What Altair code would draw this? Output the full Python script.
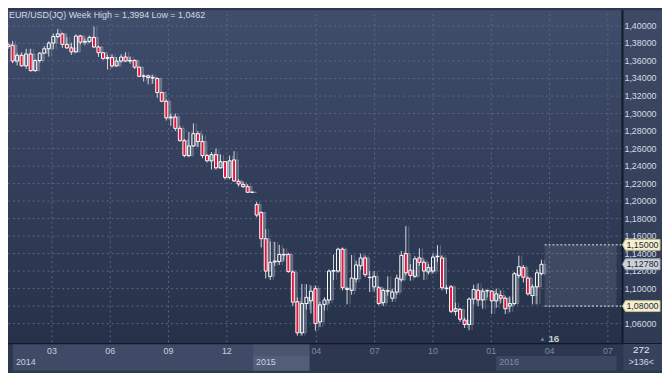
import altair as alt
import pandas as pd

title_text = "EUR/USD(JQ) Week High = 1,3994 Low = 1,0462"

# weekly OHLC, bar index 0..118 (2014 -> Mar 2016)
opens = [
    1.3765, 1.3780, 1.3600, 1.3665, 1.3545, 1.3680, 1.3490, 1.3605, 1.3690, 1.3740,
    1.3805, 1.3880, 1.3910, 1.3790, 1.3750, 1.3705, 1.3885, 1.3815, 1.3825, 1.3870,
    1.3760, 1.3695, 1.3630, 1.3640, 1.3545, 1.3600, 1.3645, 1.3600, 1.3605, 1.3530,
    1.3425, 1.3430, 1.3410, 1.3400, 1.3240, 1.3140, 1.2950, 1.2960, 1.2830, 1.2690,
    1.2520, 1.2630, 1.2770, 1.2680, 1.2520, 1.2460, 1.2530, 1.2380, 1.2450, 1.2270,
    1.2470, 1.2225, 1.2190, 1.2165, 1.2100,
    1.1960, 1.1870, 1.1570, 1.1140, 1.1305, 1.1310, 1.1390, 1.1390, 1.1190, 1.0850,
    1.0495, 1.0830, 1.0860, 1.1000, 1.0620, 1.0820, 1.0870, 1.1200, 1.1200, 1.1450,
    1.1000, 1.0980, 1.1110, 1.1260, 1.1350, 1.1130, 1.1020, 1.1010, 1.0840, 1.0970,
    1.0890, 1.0960, 1.1100, 1.1400, 1.1210, 1.1140, 1.1350, 1.1300, 1.1190, 1.1200,
    1.1365, 1.1350, 1.1005, 1.1020, 1.0740, 1.0760, 1.0640, 1.0590, 1.0880, 1.0980,
    1.0870, 1.0975, 1.0970, 1.0860, 1.0920, 1.0890, 1.0800, 1.0830, 1.1150, 1.1240,
    1.1120, 1.0920, 1.1020, 1.1170,
]
highs = [
    1.3810, 1.3830, 1.3690, 1.3700, 1.3740, 1.3740, 1.3620, 1.3700, 1.3770, 1.3825,
    1.3915, 1.3967, 1.3925, 1.3875, 1.3810, 1.3905, 1.3900, 1.3860, 1.3890, 1.3994,
    1.3775, 1.3700, 1.3670, 1.3677, 1.3645, 1.3677, 1.3700, 1.3650, 1.3620, 1.3535,
    1.3445, 1.3445, 1.3445, 1.3410, 1.3250, 1.3160, 1.2995, 1.3000, 1.2860, 1.2710,
    1.2790, 1.2887, 1.2800, 1.2750, 1.2540, 1.2560, 1.2600, 1.2530, 1.2455, 1.2520,
    1.2570, 1.2250, 1.2220, 1.2190, 1.2105,
    1.1990, 1.1880, 1.1680, 1.1540, 1.1534, 1.1500, 1.1460, 1.1410, 1.1210, 1.0900,
    1.1052, 1.1050, 1.1035, 1.1035, 1.0850, 1.0900, 1.1220, 1.1390, 1.1467, 1.1470,
    1.1020, 1.1385, 1.1320, 1.1400, 1.1380, 1.1200, 1.1200, 1.1030, 1.1000, 1.1140,
    1.1000, 1.1160, 1.1430, 1.1714, 1.1280, 1.1370, 1.1460, 1.1330, 1.1280, 1.1400,
    1.1495, 1.1380, 1.1040, 1.1040, 1.0840, 1.0780, 1.0670, 1.0900, 1.1045, 1.1060,
    1.1000, 1.0990, 1.0980, 1.1000, 1.0980, 1.0910, 1.0910, 1.1190, 1.1376, 1.1270,
    1.1140, 1.1050, 1.1220, 1.1330,
]
lows = [
    1.3740, 1.3575, 1.3550, 1.3535, 1.3510, 1.3480, 1.3478, 1.3580, 1.3685, 1.3650,
    1.3735, 1.3860, 1.3750, 1.3740, 1.3670, 1.3695, 1.3790, 1.3780, 1.3805, 1.3750,
    1.3648, 1.3613, 1.3503, 1.3525, 1.3535, 1.3580, 1.3590, 1.3570, 1.3510, 1.3420,
    1.3365, 1.3333, 1.3340, 1.3180, 1.3130, 1.2920, 1.2860, 1.2800, 1.2680, 1.2500,
    1.2500, 1.2620, 1.2615, 1.2490, 1.2440, 1.2360, 1.2360, 1.2370, 1.2245, 1.2250,
    1.2220, 1.2165, 1.2150, 1.2095, 1.2095,
    1.1815, 1.1470, 1.1115, 1.1098, 1.1260, 1.1270, 1.1320, 1.1180, 1.0800, 1.0462,
    1.0462, 1.0760, 1.0715, 1.0520, 1.0560, 1.0750, 1.0830, 1.1100, 1.1180, 1.0980,
    1.0820, 1.0930, 1.1070, 1.1210, 1.1130, 1.0960, 1.0970, 1.0810, 1.0800, 1.0920,
    1.0850, 1.0930, 1.1080, 1.1150, 1.1090, 1.1120, 1.1260, 1.1100, 1.1160, 1.1170,
    1.1300, 1.0980, 1.0940, 1.0720, 1.0690, 1.0620, 1.0550, 1.0524, 1.0820, 1.0800,
    1.0770, 1.0900, 1.0710, 1.0780, 1.0830, 1.0710, 1.0730, 1.0810, 1.1120, 1.1070,
    1.0920, 1.0820, 1.0820, 1.1150,
]
closes = [
    1.3785, 1.3600, 1.3665, 1.3545, 1.3680, 1.3490, 1.3605, 1.3690, 1.3740, 1.3805,
    1.3880, 1.3910, 1.3790, 1.3750, 1.3705, 1.3885, 1.3815, 1.3825, 1.3870, 1.3760,
    1.3695, 1.3630, 1.3640, 1.3545, 1.3600, 1.3645, 1.3600, 1.3605, 1.3530, 1.3425,
    1.3430, 1.3410, 1.3405, 1.3240, 1.3140, 1.2950, 1.2960, 1.2830, 1.2690, 1.2520,
    1.2630, 1.2770, 1.2680, 1.2520, 1.2460, 1.2530, 1.2380, 1.2450, 1.2270, 1.2460,
    1.2230, 1.2195, 1.2165, 1.2100, 1.2102,
    1.1840, 1.1570, 1.1200, 1.1300, 1.1315, 1.1390, 1.1385, 1.1195, 1.0845, 1.0495,
    1.0830, 1.0900, 1.0970, 1.0600, 1.0815, 1.0870, 1.1200, 1.1205, 1.1450, 1.1010,
    1.0990, 1.1120, 1.1270, 1.1350, 1.1160, 1.1125, 1.1140, 1.0830, 1.0980, 1.0975,
    1.0960, 1.1120, 1.1380, 1.1180, 1.1150, 1.1340, 1.1300, 1.1200, 1.1240, 1.1360,
    1.1370, 1.1010, 1.1000, 1.0740, 1.0770, 1.0650, 1.0590, 1.0880, 1.0990, 1.0870,
    1.0970, 1.0975, 1.0860, 1.0940, 1.0890, 1.0770, 1.0830, 1.1170, 1.1250, 1.1130,
    1.0940, 1.1020, 1.1180, 1.1278,
]

price_ticks = [1.06, 1.08, 1.10, 1.12, 1.14, 1.16, 1.18, 1.20, 1.22, 1.24,
               1.26, 1.28, 1.30, 1.32, 1.34, 1.36, 1.38, 1.40]
month_tick_bars = [9.7, 22.6, 35.5, 48.4, 68.2, 81.1, 94.0, 106.9, 119.8, 132.7]
month_labels = ["03", "06", "09", "12", "04", "07", "10", "01", "04", "07"]
month_bright = [True, True, True, True, False, False, False, False, False, False]
year_labels = ["2014", "2015", "2016"]
year_start_bars = [1.075, 54.2, 108.0]
window_bars = [54.2, 66.7]
zone_low, zone_high = 1.08, 1.15
tag_prices = [1.15, 1.1278, 1.08]
tag_kinds = ["zone", "last", "zone"]
counter_label = "16"
info_labels = ["272", ">136<"]

W, H = 621, 333
X_MIN, X_MAX = 1.075, 134.62
Y_MIN, Y_MAX = 1.0377, 1.41354
FONT = "Liberation Sans"


def fmt(v):
    return f"{v:.5f}".replace(".", ",")


n = len(opens)
cdf = pd.DataFrame({"bar": list(range(n)), "open": opens, "high": highs,
                    "low": lows, "close": closes})
cdf["lo"] = cdf[["open", "close"]].min(axis=1)
cdf["hi"] = cdf[["open", "close"]].max(axis=1)
cdf["up"] = cdf["close"] >= cdf["open"]

xs = alt.Scale(domain=[X_MIN, X_MAX], nice=False, zero=False)
ys = alt.Scale(domain=[Y_MIN, Y_MAX], nice=False, zero=False)
one = pd.DataFrame({"a": [0]})

bg = alt.Chart(one).mark_rect(
    color=alt.Gradient(gradient="linear", x1=0, x2=0, y1=0, y2=1,
                       stops=[alt.GradientStop(color="#404d6b", offset=0),
                              alt.GradientStop(color="#263149", offset=1)])
).encode(x=alt.value(0), x2=alt.value(W), y=alt.value(-4), y2=alt.value(H))

panel = alt.Chart(one).mark_rect(
    color=alt.Gradient(gradient="linear", x1=0, x2=0, y1=0, y2=1,
                       stops=[alt.GradientStop(color="#3e4a65", offset=0),
                              alt.GradientStop(color="#2f3a53", offset=1)])
).encode(x=alt.value(W), x2=alt.value(W + 41), y=alt.value(-4), y2=alt.value(H))

gdf = pd.DataFrame({"p": price_ticks, "lab": [fmt(v) for v in price_ticks]})
# axis labels fully hidden under a price tag in the reference are not drawn
gdf["shown"] = [min(abs(p - t) for t in tag_prices) > 0.005 or abs(p - 1.12) < 1e-9
                for p in price_ticks]
hgrid = alt.Chart(gdf).mark_rule(color="#5a6784", strokeDash=[2, 3], strokeWidth=1).encode(
    y=alt.Y("p:Q", scale=ys, axis=None), x=alt.value(0), x2=alt.value(W))

mdf = pd.DataFrame({"b": month_tick_bars, "lab": month_labels, "bright": month_bright})
vgrid = alt.Chart(mdf).mark_rule(color="#5a6784", strokeDash=[2, 3], strokeWidth=1, clip=True).encode(
    x=alt.X("b:Q", scale=xs, axis=None), y=alt.value(0), y2=alt.value(H))

zdf = pd.DataFrame({"x0": [n - 1 + 0.7], "x1": [X_MAX], "lo": [zone_low], "hi": [zone_high]})
zone = alt.Chart(zdf).mark_rect(color="#ffffff", opacity=0.09).encode(
    x=alt.X("x0:Q", scale=xs, axis=None), x2="x1:Q",
    y=alt.Y("lo:Q", scale=ys, axis=None), y2="hi:Q")
zone_lines = alt.Chart(pd.DataFrame({"x0": [n - 1 + 0.7] * 2, "p": [zone_low, zone_high]})).mark_rule(
    color="#e8ecf2", strokeDash=[2, 2], strokeWidth=1).encode(
    x=alt.X("x0:Q", scale=xs, axis=None), x2=alt.value(W + 3),
    y=alt.Y("p:Q", scale=ys, axis=None))

base = alt.Chart(cdf)
shadow_wick = base.mark_rule(color="#8e97a8", opacity=0.5, xOffset=3, clip=True).encode(
    x=alt.X("bar:Q", scale=xs, axis=None), y=alt.Y("low:Q", scale=ys, axis=None), y2="high:Q")
shadow_body = base.mark_bar(size=3, fill="#8e97a8", fillOpacity=0.3, stroke="#9aa2b2",
                            strokeOpacity=0.5, strokeWidth=1, xOffset=3, clip=True).encode(
    x=alt.X("bar:Q", scale=xs, axis=None), y=alt.Y("lo:Q", scale=ys, axis=None), y2="hi:Q")
wick_up = base.mark_rule(color="#d4d8e0", strokeWidth=1, clip=True).encode(
    x=alt.X("bar:Q", scale=xs, axis=None), y=alt.Y("hi:Q", scale=ys, axis=None), y2="high:Q")
wick_dn = base.mark_rule(color="#d4d8e0", strokeWidth=1, clip=True).encode(
    x=alt.X("bar:Q", scale=xs, axis=None), y=alt.Y("low:Q", scale=ys, axis=None), y2="lo:Q")
body_up = base.transform_filter("datum.up").mark_bar(
    size=3, fill="#000000", fillOpacity=0, stroke="#ffffff", strokeWidth=1, clip=True).encode(
    x=alt.X("bar:Q", scale=xs, axis=None), y=alt.Y("lo:Q", scale=ys, axis=None), y2="hi:Q")
body_dn = base.transform_filter("!datum.up").mark_bar(
    size=3, fill="#e8143c", stroke="#ffffff", strokeWidth=1, clip=True).encode(
    x=alt.X("bar:Q", scale=xs, axis=None), y=alt.Y("lo:Q", scale=ys, axis=None), y2="hi:Q")

sep_v = alt.Chart(one).mark_rule(color="#121a29", strokeWidth=2).encode(
    x=alt.value(W + 1), y=alt.value(-4), y2=alt.value(H))

ylabels = alt.Chart(gdf).transform_filter("datum.shown").mark_text(
    align="left", baseline="middle", font=FONT, fontSize=9, color="#d6dbe4").encode(
    x=alt.value(W + 3), y=alt.Y("p:Q", scale=ys, axis=None), text="lab:N")

tdf = pd.DataFrame({"p": tag_prices, "lab": [fmt(v) for v in tag_prices],
                    "fill": ["#f3efcf" if k == "zone" else "#cdd1d9" for k in tag_kinds],
                    "edge": ["#c9c08a" if k == "zone" else "#9ca3b0" for k in tag_kinds]})
TAG = "M-1,0L-0.84,-0.29L1,-0.29L1,0.29L-0.84,0.29Z"
tags = alt.Chart(tdf).mark_point(shape=TAG, size=1444, filled=True, strokeWidth=1, opacity=1).encode(
    x=alt.value(W + 20), y=alt.Y("p:Q", scale=ys, axis=None),
    fill=alt.Fill("fill:N", scale=None), stroke=alt.Stroke("edge:N", scale=None))
tag_text = alt.Chart(tdf).mark_text(align="left", baseline="middle", font=FONT, fontSize=9,
                                    color="#1f2636").encode(
    x=alt.value(W + 5), y=alt.Y("p:Q", scale=ys, axis=None), text="lab:N")

# bottom strip
strip_bg = alt.Chart(one).mark_rect(color="#2d374f").encode(
    x=alt.value(0), x2=alt.value(W + 41), y=alt.value(H), y2=alt.value(H + 28))
sdf_a = pd.DataFrame({"x0": [X_MIN], "x1": [window_bars[0]]})
strip_2014 = alt.Chart(sdf_a).mark_rect(color="#3f4b66").encode(
    x=alt.X("x0:Q", scale=xs, axis=None), x2="x1:Q", y=alt.value(H), y2=alt.value(H + 28))
sdf_w = pd.DataFrame({"x0": [window_bars[0]], "x1": [window_bars[1]]})
strip_win1 = alt.Chart(sdf_w).mark_rect(color="#4a5670").encode(
    x=alt.X("x0:Q", scale=xs, axis=None), x2="x1:Q", y=alt.value(H), y2=alt.value(H + 13))
strip_win2 = alt.Chart(sdf_w).mark_rect(color="#525e78").encode(
    x=alt.X("x0:Q", scale=xs, axis=None), x2="x1:Q", y=alt.value(H + 13), y2=alt.value(H + 28))
sdf_b = pd.DataFrame({"x0": [year_start_bars[2]], "x1": [X_MAX]})
strip_2016 = alt.Chart(sdf_b).mark_rect(color="#3b4762").encode(
    x=alt.X("x0:Q", scale=xs, axis=None), x2="x1:Q", y=alt.value(H + 13), y2=alt.value(H + 28))
sep_h = alt.Chart(one).mark_rule(color="#111826", strokeWidth=1.5).encode(
    x=alt.value(0), x2=alt.value(W + 41), y=alt.value(H + 0.5))

month_text = alt.Chart(mdf).mark_text(align="center", baseline="middle", font=FONT, fontSize=9).encode(
    x=alt.X("b:Q", scale=xs, axis=None), y=alt.value(H + 8),
    text="lab:N",
    color=alt.condition("datum.bright", alt.value("#c9d0dc"), alt.value("#7e8ba2")))
ydf = pd.DataFrame({"b": year_start_bars, "lab": year_labels, "bright": [True, True, False]})
year_text = alt.Chart(ydf).mark_text(align="left", baseline="middle", font=FONT, fontSize=9, dx=3).encode(
    x=alt.X("b:Q", scale=xs, axis=None), y=alt.value(H + 19),
    text="lab:N",
    color=alt.condition("datum.bright", alt.value("#c9d0dc"), alt.value("#7e8ba2")))

info_bg = alt.Chart(one).mark_rect(color="#37435c").encode(
    x=alt.value(W + 2), x2=alt.value(W + 41), y=alt.value(H + 1), y2=alt.value(H + 28))
info1 = alt.Chart(pd.DataFrame({"t": [info_labels[0]]})).mark_text(
    align="center", baseline="middle", font=FONT, fontSize=10, color="#e4e8ee").encode(
    x=alt.value(W + 20), y=alt.value(H + 7), text="t:N")
info2 = alt.Chart(pd.DataFrame({"t": [info_labels[1]]})).mark_text(
    align="center", baseline="middle", font=FONT, fontSize=9, color="#d2d8e2").encode(
    x=alt.value(W + 20), y=alt.value(H + 19), text="t:N")

counter_tri = alt.Chart(one).mark_point(shape="triangle-up", size=14, filled=True,
                                        color="#7d879a", opacity=1).encode(
    x=alt.value(541), y=alt.value(H - 4))
counter = alt.Chart(pd.DataFrame({"t": [counter_label]})).mark_text(
    align="left", baseline="middle", font=FONT, fontSize=10, fontWeight="bold",
    color="#c3cad8").encode(x=alt.value(547), y=alt.value(H - 4.5), text="t:N")

title = alt.Chart(pd.DataFrame({"t": [title_text]})).mark_text(
    align="left", baseline="top", font=FONT, fontSize=9, color="#d5dae3").encode(
    x=alt.value(1), y=alt.value(-3), text="t:N")

chart = alt.layer(
    bg, panel, hgrid, vgrid, zone,
    shadow_wick, shadow_body, wick_up, wick_dn, body_up, body_dn,
    zone_lines, sep_v, ylabels, tags, tag_text,
    strip_bg, strip_2014, strip_win1, strip_win2, strip_2016, sep_h,
    month_text, year_text, info_bg, info1, info2, counter_tri, counter, title,
).properties(
    width=W, height=H,
    padding={"left": 0, "top": 4, "right": 41, "bottom": 28},
    autosize=alt.AutoSizeParams(type="none"),
).configure(background="#2d384f").configure_view(stroke=None)

chart.save("out.html", embed_options={"renderer": "svg", "actions": False})
